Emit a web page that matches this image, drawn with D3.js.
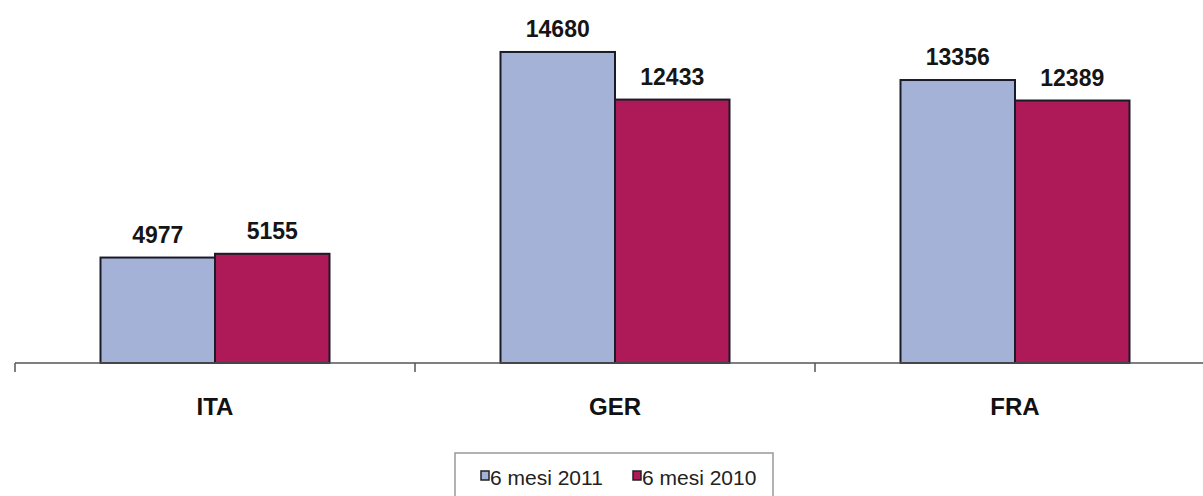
<!DOCTYPE html>
<html>
<head>
<meta charset="utf-8">
<script src="https://cdn.jsdelivr.net/npm/d3@7"></script>
<style>
html,body{margin:0;padding:0;background:#fff;}
svg{display:block;}
</style>
</head>
<body>
<svg id="chart" width="1203" height="496"></svg>
<script>
const categories = ["ITA", "GER", "FRA"];
const seriesNames = ["6 mesi 2011", "6 mesi 2010"];
const values2011 = [4977, 14680, 13356];
const values2010 = [5155, 12433, 12389];
const seriesColors = ["#A4B2D7", "#AE1A58"];

const svg = d3.select("#chart");
const axisY = 363;

const x = d3.scaleBand().domain(categories).range([15, 1215]).paddingInner(0).paddingOuter(0);
const groupW = 229;
const xs = d3.scaleBand().domain(seriesNames).range([0, groupW]).padding(0);
const y = d3.scaleLinear().domain([0, 16000]).range([axisY, 24]);

const data = categories.map((c, i) => ({
  cat: c,
  vals: [
    {s: seriesNames[0], v: values2011[i], color: seriesColors[0]},
    {s: seriesNames[1], v: values2010[i], color: seriesColors[1]}
  ]
}));

const groups = svg.selectAll("g.grp").data(data).enter().append("g")
  .attr("transform", d => `translate(${x(d.cat) + (x.bandwidth() - groupW) / 2},0)`);

groups.selectAll("rect").data(d => d.vals).enter().append("rect")
  .attr("x", d => xs(d.s))
  .attr("y", d => y(d.v))
  .attr("width", xs.bandwidth())
  .attr("height", d => axisY - y(d.v))
  .attr("fill", d => d.color)
  .attr("stroke", "#1b1b28")
  .attr("stroke-width", 2);

groups.selectAll("text.val").data(d => d.vals).enter().append("text")
  .attr("class", "val")
  .attr("x", d => xs(d.s) + xs.bandwidth() / 2)
  .attr("y", d => y(d.v) - 15)
  .attr("text-anchor", "middle")
  .attr("font-family", "Liberation Sans, Arial, sans-serif")
  .attr("font-weight", "bold")
  .attr("font-size", 23)
  .attr("fill", "#151515")
  .text(d => d.v);

// x axis
const xAxis = d3.axisBottom(x).tickSize(0).tickFormat(d => d);
const axisG = svg.append("g").attr("transform", `translate(0,${axisY})`).call(xAxis);
axisG.select(".domain").remove();
axisG.selectAll(".tick text")
  .attr("y", 52).attr("dy", 0)
  .attr("font-family", "Liberation Sans, Arial, sans-serif")
  .attr("font-weight", "bold")
  .attr("font-size", 24)
  .attr("fill", "#111");
svg.append("line").attr("x1", 15).attr("x2", 1203).attr("y1", axisY).attr("y2", axisY)
  .attr("stroke", "#555").attr("stroke-width", 1.5);
const boundaries = categories.map(c => x(c));
svg.selectAll("line.tk").data(boundaries).enter().append("line")
  .attr("x1", d => d).attr("x2", d => d)
  .attr("y1", axisY).attr("y2", axisY + 9)
  .attr("stroke", "#555").attr("stroke-width", 1.5);

// legend
const lg = svg.append("g");
lg.append("rect").attr("x", 455).attr("y", 453).attr("width", 318).attr("height", 60)
  .attr("fill", "#fff").attr("stroke", "#999").attr("stroke-width", 1.5);
const legX = [481, 633];
seriesNames.forEach((s, i) => {
  lg.append("rect").attr("x", legX[i]).attr("y", 471).attr("width", 8).attr("height", 9)
    .attr("fill", seriesColors[i]).attr("stroke", "#222").attr("stroke-width", 1.5);
  lg.append("text").attr("x", legX[i] + 9).attr("y", 485)
    .attr("font-family", "Liberation Sans, Arial, sans-serif")
    .attr("font-size", 21).attr("fill", "#222").text(s);
});
</script>
</body>
</html>
